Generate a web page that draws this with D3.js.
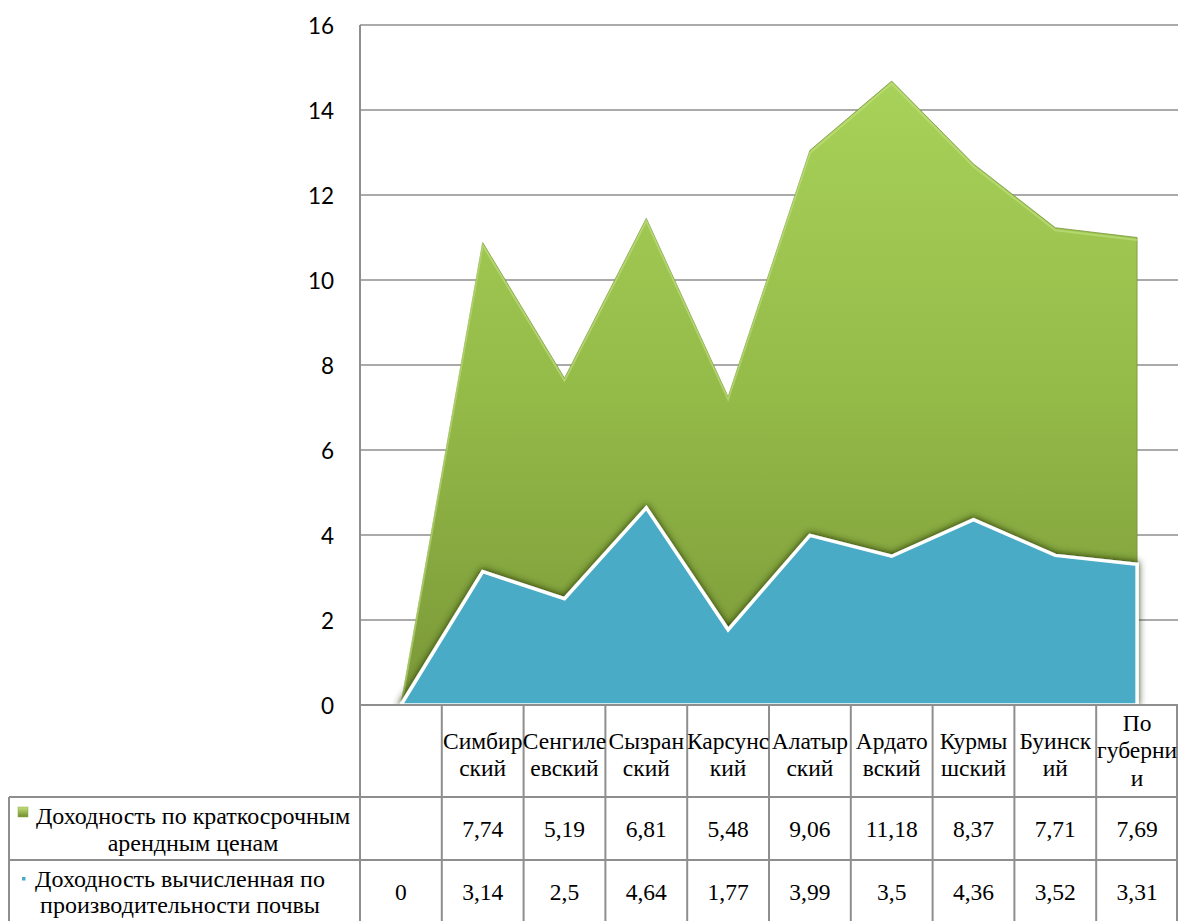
<!DOCTYPE html>
<html><head><meta charset="utf-8">
<script src="https://cdn.jsdelivr.net/npm/d3@7"></script>
<style>html,body{margin:0;padding:0;background:#fff;}svg{display:block;}</style>
</head><body>
<svg id="chart" width="1178" height="921"></svg>
<script>
// ---- data ----
const categories = ["", "Симбирский", "Сенгилеевский", "Сызранский", "Карсунский", "Алатырский", "Ардатовский", "Курмышский", "Буинский", "По губернии"];
const categoryLabelLines = [[], ["Симбир","ский"], ["Сенгиле","евский"], ["Сызран","ский"], ["Карсунс","кий"], ["Алатыр","ский"], ["Ардато","вский"], ["Курмы","шский"], ["Буинск","ий"], ["По","губерни","и"]];
const rentValues = [null, 7.74, 5.19, 6.81, 5.48, 9.06, 11.18, 8.37, 7.71, 7.69];
const soilValues = [0, 3.14, 2.5, 4.64, 1.77, 3.99, 3.5, 4.36, 3.52, 3.31];
const seriesNames = ["Доходность по краткосрочным арендным ценам", "Доходность вычисленная по производительности почвы"];
const seriesNameLines = [["Доходность по краткосрочным","арендным ценам"], ["Доходность вычисленная по","производительности почвы"]];
const yTicks = [0, 2, 4, 6, 8, 10, 12, 14, 16];

// ---- layout ----
const svg = d3.select("#chart");
const plotLeft = 360, plotRight = 1178, plotTop = 25, plotBottom = 705;
const headerBottom = 797, row2Bottom = 860, tableBottom = 923, legendLeft = 9;
const gridColor = "#8e8e8e";

const x = d3.scaleBand().domain(categories).range([plotLeft, plotRight]).padding(0);
const xc = c => x(c) + x.bandwidth() / 2;
const y = d3.scaleLinear().domain([0, 16]).range([plotBottom, plotTop]);

const defs = svg.append("defs");
const gGrad = defs.append("linearGradient").attr("id","greenGrad")
  .attr("gradientUnits","userSpaceOnUse").attr("x1",0).attr("x2",0).attr("y1",plotTop).attr("y2",plotBottom);
gGrad.append("stop").attr("offset","0%").attr("stop-color","#abd65c");
gGrad.append("stop").attr("offset","55%").attr("stop-color","#94ba48");
gGrad.append("stop").attr("offset","100%").attr("stop-color","#7a9838");

const mGrad = defs.append("linearGradient").attr("id","markGrad").attr("x1",0).attr("x2",0).attr("y1",0).attr("y2",1);
mGrad.append("stop").attr("offset","0%").attr("stop-color","#c3e07a");
mGrad.append("stop").attr("offset","100%").attr("stop-color","#6f8d2f");

const sh = defs.append("filter").attr("id","shadow").attr("x","-5%").attr("y","-10%").attr("width","110%").attr("height","120%");
sh.append("feGaussianBlur").attr("in","SourceAlpha").attr("stdDeviation",3.5).attr("result","b");
sh.append("feOffset").attr("in","b").attr("dx",0).attr("dy",-1.5).attr("result","o");
sh.append("feFlood").attr("flood-color","#263508").attr("flood-opacity",0.9).attr("result","f");
sh.append("feComposite").attr("in","f").attr("in2","o").attr("operator","in").attr("result","s");
const mg = sh.append("feMerge");
mg.append("feMergeNode").attr("in","s");
mg.append("feMergeNode").attr("in","SourceGraphic");

defs.append("clipPath").attr("id","plotClip").append("rect")
  .attr("x", plotLeft).attr("y", 0).attr("width", plotRight - plotLeft + 10).attr("height", plotBottom);

// gridlines
svg.append("g").selectAll("line").data(yTicks.filter(t => t > 0)).join("line")
  .attr("x1", plotLeft).attr("x2", plotRight).attr("y1", d => y(d)).attr("y2", d => y(d))
  .attr("stroke", gridColor).attr("stroke-width", 1.6);

// y axis labels
const yAxis = d3.axisLeft(y).tickValues(yTicks).tickSize(0).tickPadding(0).tickFormat(d3.format("d"));
const ya = svg.append("g").attr("transform", `translate(${plotLeft - 26},0)`).call(yAxis);
ya.select(".domain").remove();
ya.selectAll("text").attr("font-family","Lato, 'Open Sans', sans-serif").attr("font-size",22.5).attr("fill","#000").attr("dy","0.36em");

// stacked data
const rows = categories.map((c, i) => ({cat: c, soil: soilValues[i], rent: rentValues[i] == null ? 0 : rentValues[i]}));
const stacked = d3.stack().keys(["soil","rent"])(rows);

const plot = svg.append("g").attr("clip-path","url(#plotClip)");
const areaGen = d3.area().x(d => xc(d.data.cat)).y0(d => y(d[0])).y1(d => y(d[1]));
const greenArea = d3.area().x(d => xc(d.data.cat)).y0(y(0)).y1(d => y(d[1]));

// green (rent) layer
plot.append("path").datum(stacked[1]).attr("d", greenArea)
  .attr("fill","url(#greenGrad)").attr("stroke","#6e8c2e").attr("stroke-width",1).attr("stroke-opacity",0.7);
// bevel highlight along top
plot.append("path").datum(stacked[1])
  .attr("d", d3.line().x(d => xc(d.data.cat)).y(d => y(d[1]) + 2.5))
  .attr("fill","none").attr("stroke","#c6e487").attr("stroke-width",2).attr("stroke-opacity",0.55);

// blue (soil) layer
plot.append("path").datum(stacked[0]).attr("d", areaGen)
  .attr("fill","#4aabc5").attr("stroke","#ffffff").attr("stroke-width",3.5).attr("stroke-linejoin","miter")
  .attr("filter","url(#shadow)");

// table lines
const tl = svg.append("g").attr("stroke", gridColor).attr("stroke-width", 2);
tl.append("line").attr("x1", plotLeft).attr("x2", plotLeft).attr("y1", plotTop).attr("y2", tableBottom);
tl.append("line").attr("x1", plotLeft).attr("x2", plotRight).attr("y1", plotBottom).attr("y2", plotBottom);
tl.selectAll("line.col").data(categories).join("line").attr("class","col")
  .attr("x1", d => x(d) + x.bandwidth()).attr("x2", d => x(d) + x.bandwidth())
  .attr("y1", plotBottom).attr("y2", tableBottom);
tl.append("line").attr("x1", plotRight - 1).attr("x2", plotRight - 1).attr("y1", plotBottom).attr("y2", tableBottom);
[headerBottom, row2Bottom].forEach(yy => tl.append("line").attr("x1", legendLeft).attr("x2", plotRight).attr("y1", yy).attr("y2", yy));
tl.append("line").attr("x1", legendLeft).attr("x2", legendLeft).attr("y1", headerBottom).attr("y2", tableBottom);

// header labels
const serif = "'Liberation Serif', 'Times New Roman', serif";
const fs = 23.5;
const lh = 27.5;
const hdr = svg.append("g").attr("font-family", serif).attr("font-size", fs).attr("fill","#000").attr("text-anchor","middle");
categories.forEach((c, i) => {
  const lines = categoryLabelLines[i];
  const cy = lines.length > 2 ? 750 : 754.5;
  lines.forEach((ln, k) => {
    hdr.append("text").attr("x", xc(c)).attr("y", cy + (k - (lines.length - 1) / 2) * lh).attr("dy","0.35em").text(ln);
  });
});

// value rows
const fmt = v => v == null ? "" : String(v).replace(".", ",");
const vals = svg.append("g").attr("font-family", serif).attr("font-size", fs).attr("fill","#000").attr("text-anchor","middle");
const rowCenters = [(headerBottom + row2Bottom) / 2 + 0.5, (row2Bottom + tableBottom) / 2];
[rentValues, soilValues].forEach((arr, r) => {
  categories.forEach((c, i) => {
    vals.append("text").attr("x", xc(c)).attr("y", rowCenters[r]).attr("dy","0.35em").text(fmt(arr[i]));
  });
});

// legend cells
const legCenters = [193, 180];
const leg = svg.append("g").attr("font-family", serif).attr("font-size", 24).attr("fill","#000").attr("text-anchor","middle");
seriesNameLines.forEach((lines, r) => {
  lines.forEach((ln, k) => {
    leg.append("text").attr("x", legCenters[r]).attr("y", rowCenters[r] + (k - 0.5) * 26.5).attr("dy","0.35em").text(ln);
  });
});
svg.append("rect").attr("x", 18).attr("y", 807).attr("width", 10).attr("height", 10).attr("fill","url(#markGrad)").attr("stroke","#8aab45").attr("stroke-width",0.5);
svg.append("rect").attr("x", 22).attr("y", 877).attr("width", 3.5).attr("height", 3.5).attr("fill","#4aabc5");
</script>
</body></html>
